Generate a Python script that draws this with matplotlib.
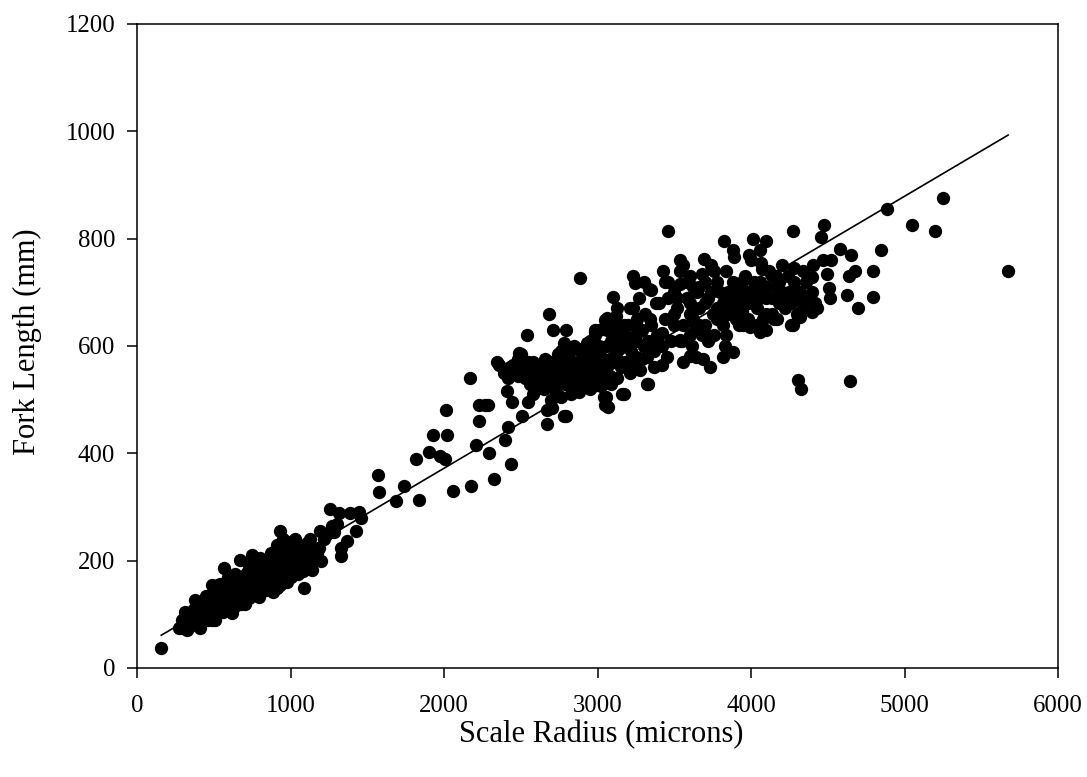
import matplotlib
matplotlib.use("Agg")
import matplotlib.pyplot as plt

plt.rcParams['font.family'] = ['Liberation Serif', 'DejaVu Serif']

juvenile_radius = [
    271,326,413,510,619,706,793,886,977,1086,
    1140,1199,1184,1195,1260,1314,1390,1444,1462,1429,
    1368,1329,1329,1303,1281,315,380,489,543,565,
    669,749,934,912,1032,1108,300,290,340,360,
    350,380,400,420,440,460,480,500,520,540,
    560,580,600,620,640,660,680,700,720,740,
    760,780,800,820,840,860,880,900,920,940,
    960,980,1000,1020,1040,1060,1080,1100,1120,1140,
    370,410,450,490,530,570,610,650,690,730,
    770,810,850,890,930,970,1010,1050,1090,1130,
    520,560,600,640,680,720,760,800,840,880,
    920,960,1000,1040,1080,1130,1170,1220,1240,1270,
    300,320,340,360,380,400,420,440,460,480,
    500,520,540,560,580,600,620,640,660,680,
    700,720,740,760,780,800,820,840,860,880,
    900,920,940,960,980,1000,1020,1040,1060,1080,
    330,370,410,450,490,530,570,610,650,690,
    730,770,810,850,890,930,970,1010,1050,1100,
    640,680,720,760,800,840,880,920,960,1000,
    590,630,670,710,750,790,830,870,910,950,
]
juvenile_fork = [
    74,71,74,89,102,120,133,141,161,150,
    182,199,223,256,297,288,288,291,279,256,
    237,223,209,269,254,105,126,154,157,187,
    201,211,256,229,241,232,82,90,78,95,
    85,100,82,115,95,120,108,140,100,125,
    150,115,135,160,125,150,170,135,180,150,
    195,145,170,200,160,185,155,215,175,205,
    180,220,170,235,190,215,200,225,195,215,
    110,92,135,90,155,130,110,130,155,130,
    170,150,200,175,155,200,205,175,210,240,
    135,105,150,175,120,165,140,190,175,200,
    230,160,195,225,180,225,215,240,250,265,
    75,85,95,80,90,105,85,105,90,115,
    110,120,105,130,135,120,140,145,135,150,
    150,160,170,165,175,150,180,185,170,190,
    190,200,190,205,190,215,205,210,195,215,
    90,95,115,100,125,140,140,150,160,165,
    145,185,195,175,205,215,170,185,225,185,
    115,135,195,155,205,145,165,160,225,235,
    170,140,125,175,190,160,190,215,150,240,
]

sparse_radius = [
    158,2686,2712,2793,2539,2984,2984,3062,3049,2343,
    2489,2417,2410,2443,2547,2580,2267,2228,2287,2169,
    2013,2228,2417,2508,2671,2795,2704,2020,1928,2397,
    2208,2293,1902,1974,2007,1818,2437,2326,2176,2059,
    1570,1577,1739,1687,1837,2886,
]
sparse_fork = [
    37,660,630,630,620,630,620,652,648,570,
    587,540,516,496,496,510,490,490,490,540,
    480,460,449,470,455,470,484,434,434,425,
    415,400,402,395,390,390,380,352,340,330,
    360,328,340,311,313,726,
]

middle_radius = [
    2450,2480,2520,2550,2560,2600,2620,2650,2680,2720,
    2740,2760,2790,2800,2830,2850,2870,2900,2920,2950,
    2960,2980,3000,3020,3040,3060,3080,3100,3120,3150,
    2670,2700,2730,2760,2780,2820,2860,2880,2900,2930,
    2950,2990,3020,3050,3070,3090,3130,3160,3190,3210,
    2500,2530,2570,2600,2640,2660,2690,2720,2750,2780,
    2810,2840,2870,2910,2940,2970,3010,3040,3080,3110,
    3130,3150,3180,3200,3220,3240,3260,3280,3300,3320,
    2360,2430,2390,2460,
    2480,2540,2580,2620,2660,2700,2740,2780,2820,2860,
    2900,2940,2980,3020,3060,3100,3140,3180,3220,3260,
    2640,2690,2750,2800,2850,2890,2930,2970,3010,3050,
    3090,3130,3170,3210,3250,3290,3330,3370,3010,3120,
]
middle_fork = [
    565,575,560,570,530,545,555,520,540,560,
    550,590,530,575,510,600,545,595,560,520,
    575,555,540,580,505,600,545,620,590,560,
    480,500,515,505,470,555,530,515,585,540,
    610,570,525,490,565,530,635,510,600,550,
    585,540,550,520,560,535,570,530,545,605,
    580,570,595,535,560,595,550,560,575,640,
    540,610,570,640,590,565,625,555,600,580,
    565,560,550,550,
    545,555,570,540,575,555,585,560,590,565,
    550,580,590,565,630,570,595,620,615,650,
    540,525,570,545,520,570,605,525,600,535,
    610,575,640,670,610,575,610,560,630,655,
]

adult_radius = [
    3210,3230,3250,3270,3290,3310,3330,3350,3370,3390,
    3400,3420,3440,3460,3480,3500,3520,3540,3560,3580,
    3600,3620,3640,3660,3680,3700,3720,3740,3760,3780,
    3800,3820,3840,3860,3880,3900,3920,3940,3960,3980,
    4000,4020,4040,4060,4080,4100,4120,4140,4160,4180,
    4200,4220,4240,4260,4280,4300,4320,4340,4360,4380,
    3250,3300,3350,3400,3450,3500,3550,3600,3650,3700,
    3750,3800,3850,3900,3950,4000,4050,4100,4150,4250,
    3300,3360,3420,3480,3540,3600,3660,3720,3780,3840,
    3900,3960,4020,4080,4140,4200,4280,4340,4400,4420,
    3340,3380,3420,3460,3500,3540,3580,3620,3660,3700,
    3740,3780,3820,3860,3900,3940,3980,4020,4060,4100,
    4140,4180,4220,4260,4300,4340,3440,3520,3600,3680,
    3760,3800,3850,3920,3980,4040,4100,4160,3560,3640,
]
adult_fork = [
    610,670,640,690,630,660,530,705,590,620,
    680,565,650,720,610,700,670,740,640,690,
    660,710,580,670,735,640,690,750,620,670,
    700,640,740,680,720,650,690,665,730,680,
    640,700,670,720,650,690,740,660,710,680,
    700,690,730,680,745,660,700,680,720,690,
    580,600,640,600,580,640,610,620,700,720,
    660,650,660,710,640,760,690,660,650,700,
    720,610,625,650,715,730,640,610,720,620,
    670,700,720,700,730,750,720,740,700,680,
    650,680,600,690,660,610,720,650,710,680,
    700,650,680,660,690,720,650,680,640,710,
    690,720,670,640,690,670,720,690,680,620,
    740,670,700,640,700,640,630,730,750,640,
]

upper_radius = [
    3459,3824,4013,4098,4272,3883,3890,3987,4059,4065,
    4072,3538,3694,3427,3231,3244,3336,3101,3127,3062,
    2984,3635,3740,3831,3883,3818,3616,3603,3557,3688,
    3733,3538,4170,4274,4306,4059,3994,4306,4326,3323,
    3173,3056,3069,5675,5251,4886,5049,5199,4476,4456,
    4847,4580,4652,4795,4795,4678,4639,4626,4697,4645,
    4515,4508,4521,4469,4404,4495,4397,4430,4397,4319,
]
upper_fork = [
    814,795,800,796,814,779,766,769,779,754,
    743,760,762,740,730,717,706,691,671,650,
    626,630,618,600,589,579,600,581,570,575,
    561,611,650,639,654,626,635,536,520,529,
    510,505,487,740,876,855,825,814,825,804,
    779,780,770,740,691,740,730,695,670,535,
    690,708,760,760,750,735,728,670,663,654,
]

line_radius = [158, 5675]
line_fork = [61, 993]

x_ticks = [0, 1000, 2000, 3000, 4000, 5000, 6000]
y_ticks = [0, 200, 400, 600, 800, 1000, 1200]

fig = plt.figure(figsize=(10.87, 7.77), dpi=100)
ax = fig.add_axes([137/1087, 1 - 668/777, 921/1087, 644/777])

ax.plot(line_radius, line_fork, color='black', lw=1.2, zorder=2)
for xs, ys in [(juvenile_radius, juvenile_fork), (sparse_radius, sparse_fork),
               (middle_radius, middle_fork), (adult_radius, adult_fork),
               (upper_radius, upper_fork)]:
    ax.scatter(xs, ys, s=92, color='black', linewidths=0, zorder=3, clip_on=False)

ax.set_xlim(0, 6000)
ax.set_ylim(0, 1200)
ax.set_xticks(x_ticks)
ax.set_yticks(y_ticks)
ax.tick_params(direction='out', length=7.2, width=1.1, labelsize=17.8)
ax.tick_params(axis='y', pad=8.5)
ax.tick_params(axis='x', pad=12)
for s in ax.spines.values():
    s.set_linewidth(1.1)
ax.set_xlabel('Scale Radius (microns)', fontsize=22, va='center')
ax.set_ylabel('Fork Length (mm)', fontsize=22, va='center')
ax.xaxis.set_label_coords(0.504, (668 - 735) / 644)
ax.yaxis.set_label_coords((27 - 137) / 921, (668 - 342) / 644)
fig.savefig('out.png', dpi=100)
